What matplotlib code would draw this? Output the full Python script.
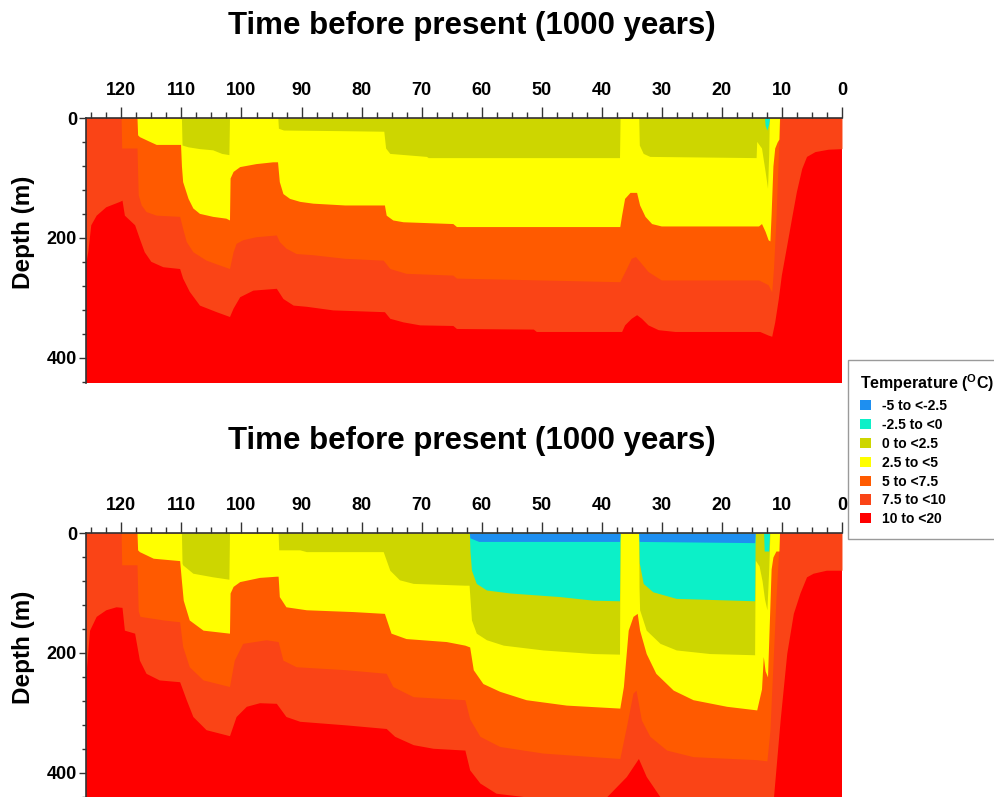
import numpy as np
import matplotlib
matplotlib.use("Agg")
import matplotlib.pyplot as plt
from matplotlib.patches import Patch
from matplotlib.ticker import MultipleLocator

# Temperature classes (deg C), coldest first
temp_labels = ["-5 to <-2.5", "-2.5 to <0", "0 to <2.5", "2.5 to <5",
               "5 to <7.5", "7.5 to <10", "10 to <20"]
temp_colors = ["#1E8FF0", "#0CF0C8", "#CDD600", "#FFFF00",
               "#FF5A00", "#FA4416", "#FF0000"]

# Upper panel: depth (m) of each isotherm, as (time ka BP, depth m)
top_iso10 = [(125.9, 250), (125.8, 234), (125.6, 223), (125.1, 178), (124.2, 162), (122.6, 148),
             (120.3, 139), (119.9, 137), (119.5, 162), (117.8, 178), (117.0, 201), (116.2, 223),
             (115.1, 239), (113.1, 248), (110.3, 251), (109.8, 267), (108.7, 289), (107.0, 312),
             (104.2, 323), (102.0, 331), (101.4, 317), (100.3, 298), (98.1, 287), (94.2, 284),
             (93.1, 301), (91.4, 312), (89.2, 314), (84.8, 320), (76.2, 323), (75.3, 334),
             (73.1, 340), (70.3, 345), (64.8, 346), (64.2, 351), (51.4, 352), (50.9, 356),
             (36.7, 356), (36.2, 345), (35.1, 334), (34.2, 328), (33.4, 334), (32.3, 345),
             (30.6, 353), (27.8, 356), (13.7, 356), (12.3, 362), (11.7, 364), (11.2, 340),
             (10.6, 301), (10.1, 262), (9.2, 212), (8.4, 167), (7.6, 123), (6.7, 84),
             (5.9, 64), (4.5, 56), (2.3, 52), (0.0, 51)]
top_iso75 = [(125.9, 0), (120.05, 0), (119.95, 50), (117.4, 50), (117.2, 128), (116.7, 145),
             (115.9, 156), (114.2, 162), (110.3, 164), (109.8, 184), (109.2, 206), (108.1, 223),
             (105.9, 237), (103.7, 245), (102.0, 251), (101.4, 223), (100.9, 209), (99.8, 203),
             (97.6, 198), (94.2, 195), (93.7, 206), (92.6, 217), (90.9, 226), (88.1, 228),
             (82.8, 234), (76.4, 237), (75.3, 251), (72.6, 259), (64.8, 262), (64.2, 267),
             (50.3, 270), (37.0, 273), (35.9, 251), (35.1, 234), (34.4, 231), (33.7, 239),
             (32.3, 256), (30.1, 270), (13.9, 270), (12.3, 278), (11.7, 290), (11.4, 250),
             (11.0, 170), (10.7, 90), (10.5, 40), (10.3, 0), (0.0, 0)]
top_iso5 = [(125.9, 0), (117.4, 0), (117.3, 28), (117.0, 31), (115.3, 39), (114.2, 44),
            (110.15, 44), (110.0, 80), (109.8, 106), (108.9, 134), (108.1, 150), (107.0, 159),
            (104.8, 164), (102.6, 167), (102.0, 170), (101.9, 100), (101.4, 89), (100.3, 81),
            (97.6, 76), (94.8, 73), (94.0, 73), (93.7, 106), (93.1, 126), (92.0, 134),
            (90.3, 139), (88.1, 142), (82.8, 145), (76.2, 145), (75.9, 162), (74.8, 170),
            (73.1, 173), (64.8, 176), (64.2, 181), (37.0, 181), (36.7, 162), (36.2, 134),
            (35.3, 124), (34.2, 124), (33.7, 145), (32.8, 164), (31.7, 176), (30.1, 180),
            (13.9, 180), (13.4, 176), (12.8, 189), (12.3, 203), (12.0, 205), (11.8, 160),
            (11.5, 80), (11.2, 50), (10.8, 40), (10.5, 35), (10.4, 0), (0.0, 0)]
top_iso25 = [(125.9, 0), (110.0, 0), (109.9, 45), (108.9, 48), (107.0, 51), (104.8, 53),
             (103.3, 59), (102.1, 61), (102.0, 0), (93.95, 0), (93.85, 17), (93.0, 20),
             (83.7, 21), (76.3, 22), (76.0, 50), (75.3, 59), (69.2, 64), (68.9, 66),
             (37.05, 66), (36.95, 0), (33.85, 0), (33.75, 45), (33.1, 59), (32.0, 64),
             (14.3, 66), (14.2, 39), (13.4, 50), (12.8, 89), (12.4, 117), (12.2, 60),
             (12.1, 0), (0.0, 0)]
top_iso0 = [(125.9, 0), (12.9, 0), (12.8, 12), (12.5, 20), (12.2, 10), (12.05, 0), (0.0, 0)]

# Lower panel
bot_iso10 = [(125.9, 250), (125.8, 223), (125.3, 162), (124.2, 139), (122.6, 128), (120.9, 123),
             (119.9, 124), (119.5, 162), (117.8, 167), (117.0, 212), (115.9, 234), (113.7, 245),
             (110.3, 248), (109.2, 278), (108.1, 306), (105.9, 328), (102.0, 338), (100.9, 306),
             (99.2, 289), (97.0, 283), (94.2, 284), (92.6, 306), (90.3, 314), (82.6, 320),
             (75.9, 326), (74.5, 339), (71.4, 353), (68.1, 359), (62.8, 362), (62.0, 395),
             (60.3, 417), (57.6, 434), (52.6, 440), (48.0, 448), (42.0, 448), (39.2, 440),
             (35.9, 406), (33.9, 376), (32.6, 406), (30.3, 440), (27.0, 450), (14.0, 450),
             (11.4, 440), (10.3, 312), (9.2, 201), (8.1, 134), (7.0, 100), (5.9, 73),
             (4.8, 67), (2.6, 62), (0.0, 62)]
bot_iso75 = [(125.9, 0), (120.05, 0), (119.95, 53), (117.4, 53), (117.2, 130), (116.9, 139),
             (113.0, 145), (110.3, 148), (109.8, 189), (108.7, 223), (106.4, 245), (102.0, 256),
             (101.2, 212), (99.8, 184), (95.9, 178), (93.9, 181), (93.1, 212), (90.9, 223),
             (82.6, 228), (75.9, 234), (74.8, 256), (71.4, 273), (62.8, 278), (62.0, 310),
             (60.3, 339), (57.0, 356), (49.8, 367), (41.4, 373), (37.0, 376), (35.9, 323),
             (34.8, 267), (34.3, 262), (33.4, 312), (32.0, 339), (29.2, 362), (24.8, 373),
             (14.2, 378), (12.5, 380), (12.0, 330), (11.5, 220), (11.0, 110), (10.6, 40),
             (10.4, 0), (0.0, 0)]
bot_iso5 = [(125.9, 0), (117.4, 0), (117.3, 28), (117.0, 31), (114.7, 42), (110.3, 46),
            (110.0, 80), (109.7, 112), (108.7, 145), (106.4, 162), (102.0, 167), (101.9, 100),
            (101.4, 89), (100.3, 81), (97.0, 74), (94.2, 72), (93.9, 72), (93.7, 106),
            (92.6, 123), (89.2, 128), (81.4, 131), (76.2, 134), (75.1, 167), (72.6, 176),
            (65.9, 181), (62.8, 187), (62.0, 190), (61.4, 228), (59.8, 251), (57.0, 264),
            (52.6, 278), (45.9, 287), (37.0, 292), (36.4, 256), (35.6, 162), (34.8, 139),
            (34.1, 134), (33.7, 162), (32.6, 201), (31.0, 234), (28.1, 262), (24.8, 278),
            (19.2, 289), (14.2, 295), (13.4, 260), (13.1, 206), (12.8, 230), (12.4, 240),
            (12.1, 150), (11.8, 60), (11.5, 40), (11.0, 30), (10.5, 30), (10.4, 0), (0.0, 0)]
bot_iso25 = [(125.9, 0), (110.0, 0), (109.9, 50), (109.8, 53), (108.1, 67), (104.8, 73),
             (102.1, 77), (102.0, 0), (93.9, 0), (93.8, 28), (90.3, 28), (89.2, 31),
             (76.4, 31), (75.3, 62), (73.7, 78), (71.4, 84), (62.8, 87), (62.1, 87),
             (61.7, 145), (60.9, 167), (59.2, 178), (56.4, 187), (49.8, 195), (41.4, 201),
             (37.05, 202), (36.95, 0), (33.85, 0), (33.8, 90), (33.7, 128), (32.6, 162),
             (30.3, 184), (27.6, 195), (22.0, 201), (14.55, 203), (14.45, 45), (13.8, 55),
             (13.3, 80), (12.9, 110), (12.5, 128), (12.2, 60), (12.0, 0), (0.0, 0)]
bot_iso0 = [(125.9, 0), (62.05, 0), (61.95, 30), (61.7, 62), (60.9, 84), (59.2, 95),
            (55.3, 100), (47.0, 106), (41.4, 112), (37.05, 113), (36.95, 0), (33.85, 0),
            (33.75, 50), (33.1, 84), (31.5, 98), (27.6, 109), (14.55, 113), (14.45, 0),
            (13.05, 0), (12.95, 30), (12.2, 30), (12.05, 0), (0.0, 0)]
bot_isom25 = [(125.9, 0), (62.05, 0), (61.95, 8), (60.5, 14), (37.05, 14), (36.95, 0),
              (33.85, 0), (33.75, 14), (14.55, 16), (14.45, 0), (0.0, 0)]

title_text = "Time before present (1000 years)"


def draw_panel(ax, isotherms):
    # deepest class as background, then paint each colder layer from the surface down
    ax.set_facecolor(temp_colors[-1])
    for pts, color in isotherms:
        t, d = np.array(pts, dtype=float).T
        ax.fill_between(t, 0, d, color=color, linewidth=0)

    ax.set_xlim(125.9, 0)
    ax.set_ylim(442, 0)
    ax.xaxis.tick_top()
    ax.xaxis.set_major_locator(MultipleLocator(10))
    ax.xaxis.set_minor_locator(MultipleLocator(2.5))
    ax.yaxis.set_major_locator(MultipleLocator(200))
    ax.yaxis.set_minor_locator(MultipleLocator(40))
    ax.tick_params(axis="x", which="major", length=8, width=1, pad=6, labelsize=13,
                   colors="#333333", labelcolor="black")
    ax.tick_params(axis="x", which="minor", length=4.3, width=1, colors="#333333")
    ax.tick_params(axis="y", which="major", length=5, width=1, pad=1.5, labelsize=13,
                   colors="#333333", labelcolor="black")
    ax.tick_params(axis="y", which="minor", length=3, width=1, colors="#333333")
    for side in ["bottom", "right"]:
        ax.spines[side].set_visible(False)
    for side in ["top", "left"]:
        ax.spines[side].set_color("#333333")
        ax.spines[side].set_linewidth(1.2)


def main():
    plt.rcParams["font.family"] = ["Liberation Sans", "DejaVu Sans"]
    plt.rcParams["font.weight"] = "bold"
    plt.rcParams["mathtext.fontset"] = "custom"
    plt.rcParams["mathtext.rm"] = "Liberation Sans:bold"

    fig = plt.figure(figsize=(9.95, 7.97), dpi=100)
    ax_top = fig.add_axes([0.0864, 0.5194, 0.7598, 0.3325])
    ax_bot = fig.add_axes([0.0864, -0.0013, 0.7598, 0.3325])

    draw_panel(ax_top, [(top_iso10, temp_colors[5]), (top_iso75, temp_colors[4]),
                        (top_iso5, temp_colors[3]), (top_iso25, temp_colors[2]),
                        (top_iso0, temp_colors[1])])
    draw_panel(ax_bot, [(bot_iso10, temp_colors[5]), (bot_iso75, temp_colors[4]),
                        (bot_iso5, temp_colors[3]), (bot_iso25, temp_colors[2]),
                        (bot_iso0, temp_colors[1]), (bot_isom25, temp_colors[0])])

    # titles and axis labels
    fig.text(0.474, 0.967, title_text, ha="center", va="center", fontsize=22.5)
    fig.text(0.474, 0.447, title_text, ha="center", va="center", fontsize=22.5)
    fig.text(0.024, 0.709, "Depth (m)", rotation=90, ha="center", va="center", fontsize=17.5)
    fig.text(0.024, 0.188, "Depth (m)", rotation=90, ha="center", va="center", fontsize=17.5)

    handles = [Patch(facecolor=c, edgecolor="none") for c in temp_colors]
    leg = fig.legend(handles, temp_labels, loc="upper left",
                     bbox_to_anchor=(848 / 995, 1 - 360 / 797), borderaxespad=0,
                     title=r"Temperature ($^{\mathrm{O}}$C)", fontsize=10, title_fontsize=11.5,
                     alignment="left", frameon=True, fancybox=False, edgecolor="#9a9a9a",
                     framealpha=1, handlelength=0.75, handleheight=0.75, handletextpad=0.8,
                     labelspacing=0.35, borderpad=0.9)
    leg.get_frame().set_linewidth(1.0)

    fig.savefig("out.png", dpi=100)


if __name__ == "__main__":
    main()
